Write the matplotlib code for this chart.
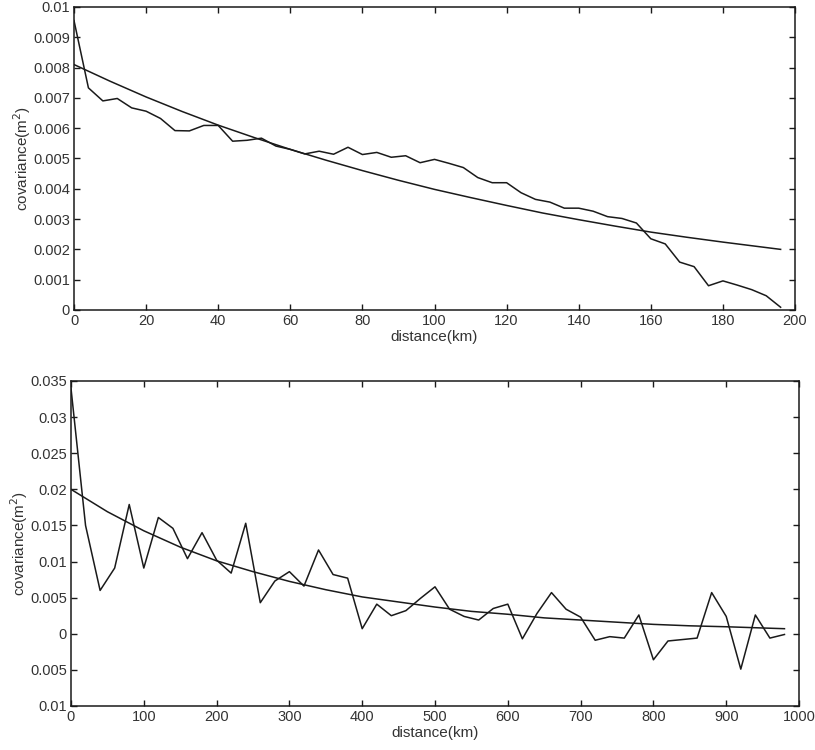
import matplotlib
matplotlib.use('Agg')
import matplotlib.pyplot as plt
from matplotlib.ticker import FixedLocator, FixedFormatter

plt.rcParams['font.family'] = ['Liberation Sans', 'DejaVu Sans']
plt.rcParams['font.size'] = 10.5

# top panel: empirical covariance (every 4 km) and fitted curve
top_dist = [0, 4, 8, 12, 16, 20, 24, 28, 32, 36, 40, 44, 48, 52, 56, 60, 64, 68, 72, 76,
            80, 84, 88, 92, 96, 100, 104, 108, 112, 116, 120, 124, 128, 132, 136, 140,
            144, 148, 152, 156, 160, 164, 168, 172, 176, 180, 184, 188, 192, 196]
top_cov = [0.00955, 0.00733, 0.00690, 0.00698, 0.00667, 0.00656, 0.00632, 0.00592,
           0.00591, 0.00609, 0.00609, 0.00557, 0.00560, 0.00567, 0.00541, 0.00530,
           0.00515, 0.00524, 0.00514, 0.00537, 0.00513, 0.00520, 0.00504, 0.00509,
           0.00486, 0.00497, 0.00484, 0.00470, 0.00437, 0.00420, 0.00420, 0.00387,
           0.00365, 0.00356, 0.00336, 0.00336, 0.00326, 0.00308, 0.00302, 0.00287,
           0.00235, 0.00218, 0.00158, 0.00143, 0.00080, 0.00096, 0.00082, 0.00067,
           0.00047, 0.00009]
top_fit_dist = [0, 10, 20, 30, 40, 50, 60, 70, 80, 90, 100, 110, 120, 130, 140, 150,
                160, 170, 180, 190, 196]
top_fit_cov = [0.00810, 0.00755, 0.00703, 0.00655, 0.00610, 0.00569, 0.00530, 0.00494,
               0.00460, 0.00428, 0.00398, 0.00371, 0.00345, 0.00320, 0.00298, 0.00277,
               0.00257, 0.00240, 0.00224, 0.00209, 0.00200]

# bottom panel: empirical covariance (every 20 km) and fitted curve
bot_dist = list(range(0, 1000, 20))
bot_cov = [0.0340, 0.0150, 0.0060, 0.0091, 0.0179, 0.0091, 0.0161, 0.0146, 0.0104,
           0.0140, 0.0102, 0.0084, 0.0153, 0.0043, 0.0073, 0.0086, 0.0066, 0.0116,
           0.0082, 0.0077, 0.0007, 0.0041, 0.0025, 0.0032, 0.0049, 0.0065, 0.0034,
           0.0024, 0.0019, 0.0035, 0.0041, -0.0007, 0.0028, 0.0057, 0.0034, 0.0023,
           -0.0009, -0.0004, -0.0006, 0.0026, -0.0036, -0.0010, -0.0008, -0.0006,
           0.0057, 0.0024, -0.0049, 0.0026, -0.0006, -0.0001]
bot_fit_dist = [0, 50, 100, 150, 200, 250, 300, 350, 400, 450, 500, 550, 600, 650,
                700, 750, 800, 850, 900, 950, 980]
bot_fit_cov = [0.0200, 0.0169, 0.01426, 0.0120, 0.0101, 0.0086, 0.00725, 0.0061,
               0.0051, 0.0044, 0.0037, 0.0031, 0.0027, 0.0022, 0.0019, 0.0016,
               0.0013, 0.0011, 0.00097, 0.0008, 0.0007]

top_yticks = [0, 0.001, 0.002, 0.003, 0.004, 0.005, 0.006, 0.007, 0.008, 0.009, 0.01]
top_ylabels = ['0', '0.001', '0.002', '0.003', '0.004', '0.005', '0.006', '0.007',
               '0.008', '0.009', '0.01']
bot_yticks = [-0.01, -0.005, 0, 0.005, 0.01, 0.015, 0.02, 0.025, 0.03, 0.035]
bot_ylabels = ['0.01', '0.005', '0', '0.005', '0.01', '0.015', '0.02', '0.025',
               '0.03', '0.035']

line_color = '#1a1a1a'
text_color = '#333333'

fig = plt.figure(figsize=(8.15, 7.5), dpi=100)
ax1 = fig.add_axes([0.0908, 0.5867, 0.8847, 0.404])
ax2 = fig.add_axes([0.0871, 0.0587, 0.8933, 0.4333])


def style_axes(ax):
    for sp in ax.spines.values():
        sp.set_linewidth(1.1)
        sp.set_color(line_color)
    ax.tick_params(direction='in', top=True, right=True, length=4.5, width=1.0,
                   color=line_color, labelcolor=text_color, labelsize=10.5, pad=3)


ax1.plot(top_dist, top_cov, color=line_color, lw=1.1)
ax1.plot(top_fit_dist, top_fit_cov, color=line_color, lw=1.1)
ax1.set_xlim(0, 200)
ax1.set_ylim(0, 0.01)
ax1.set_xticks(range(0, 201, 20))
ax1.yaxis.set_major_locator(FixedLocator(top_yticks))
ax1.yaxis.set_major_formatter(FixedFormatter(top_ylabels))
ax1.set_xlabel('distance(km)', fontsize=11, color=text_color, labelpad=1)
ax1.set_ylabel('covariance(m$^2$)', fontsize=11, color=text_color, labelpad=0)
style_axes(ax1)

ax2.plot(bot_dist, bot_cov, color=line_color, lw=1.1)
ax2.plot(bot_fit_dist, bot_fit_cov, color=line_color, lw=1.1)
ax2.set_xlim(0, 1000)
ax2.set_ylim(-0.01, 0.035)
ax2.set_xticks(range(0, 1001, 100))
ax2.yaxis.set_major_locator(FixedLocator(bot_yticks))
ax2.yaxis.set_major_formatter(FixedFormatter(bot_ylabels))
ax2.set_xlabel('distance(km)', fontsize=11, color=text_color, labelpad=1)
ax2.set_ylabel('covariance(m$^2$)', fontsize=11, color=text_color, labelpad=0)
style_axes(ax2)

fig.savefig('out.png', dpi=100)
plt.close(fig)
